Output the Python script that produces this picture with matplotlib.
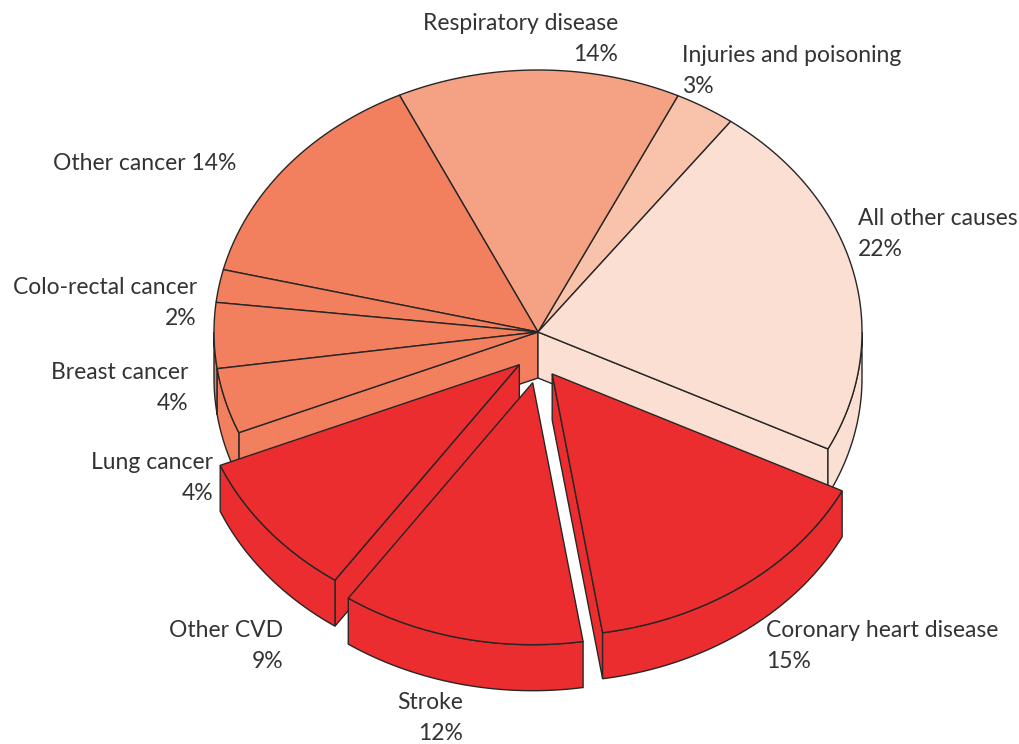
import numpy as np
import matplotlib.pyplot as plt
from matplotlib.patches import Polygon

plt.rcParams['font.family'] = ['Lato', 'DejaVu Sans']

causes = ['Injuries and poisoning', 'Respiratory disease', 'Other cancer', 'Colo-rectal cancer',
          'Breast cancer', 'Lung cancer', 'Other CVD', 'Stroke', 'Coronary heart disease',
          'All other causes']
share = [3, 14, 14, 2, 4, 4, 9, 12, 15, 22]
colors = ['#f9c3ab', '#f4a283', '#f2805f', '#f2805f', '#f2805f', '#f2805f',
          '#ec2d2f', '#ec2d2f', '#ec2d2f', '#fcdfd3']
pulled = [False, False, False, False, False, False, True, True, True, False]

# pie geometry in pixel space (y grows downward)
cx, cy = 538, 332
rx, ry = 324, 262
depth = 46
start = 53.5
pull_x, pull_y = 24, 52
edge = '#262626'

vals = np.array(share, dtype=float)
bounds = start + 360 * np.concatenate([[0], np.cumsum(vals)]) / vals.sum()

fig = plt.figure(figsize=(10.2, 7.44), dpi=100)
ax = fig.add_axes([0, 0, 1, 1])
ax.set_xlim(0, 1020)
ax.set_ylim(744, 0)
ax.axis('off')


def pt(a, ox, oy, dz=0.0):
    t = np.radians(a)
    return cx + ox + rx * np.cos(t), cy + oy - ry * np.sin(t) + dz


def arc(a1, a2, ox, oy, dz=0.0, n=None):
    n = n or max(3, int(abs(a2 - a1)) + 2)
    t = np.linspace(a1, a2, n)
    x, y = pt(t, ox, oy, dz)
    return np.column_stack([x, y])


def patch(xy, color, z):
    ax.add_patch(Polygon(xy, closed=True, facecolor=color, edgecolor=edge,
                         lw=1.0, joinstyle='miter', zorder=z))


def radial_face(a, ox, oy, color, z):
    x, y = pt(a, ox, oy)
    xy = [(cx + ox, cy + oy), (x, y), (x, y + depth), (cx + ox, cy + oy + depth)]
    patch(xy, color, z)


def curved_side(a1, a2, ox, oy, color, z):
    # only the front half of the rim (180..360 deg) faces the viewer
    for k in (-1, 0, 1):
        lo = max(a1, 180 + 360 * k)
        hi = min(a2, 360 + 360 * k)
        if hi > lo:
            top = arc(lo, hi, ox, oy)
            bot = arc(hi, lo, ox, oy, depth)
            patch(np.vstack([top, bot]), color, z)


def top_face(a1, a2, ox, oy, color, z):
    xy = np.vstack([[(cx + ox, cy + oy)], arc(a1, a2, ox, oy)])
    patch(xy, color, z)


# main body: faces bordering the gap, rim, then tops
body = [i for i in range(len(vals)) if not pulled[i]]
first_pulled = pulled.index(True)
last_pulled = len(pulled) - 1 - pulled[::-1].index(True)
radial_face(bounds[first_pulled], 0, 0, colors[first_pulled - 1], 1)
radial_face(bounds[last_pulled + 1], 0, 0, colors[last_pulled + 1], 1)
for i in body:
    curved_side(bounds[i], bounds[i + 1], 0, 0, colors[i], 2)
for i in body:
    top_face(bounds[i], bounds[i + 1], 0, 0, colors[i], 3)

# pulled-out slices, back to front
out = [i for i in range(len(vals)) if pulled[i]]
mids = {i: np.radians((bounds[i] + bounds[i + 1]) / 2) for i in out}
for rank, i in enumerate(sorted(out, key=lambda j: -np.sin(mids[j]))):
    ox = pull_x * np.cos(mids[i])
    oy = -pull_y * np.sin(mids[i])
    z = 10 + rank * 3
    a1, a2 = bounds[i], bounds[i + 1]
    if np.cos(np.radians(a1)) > 0:
        radial_face(a1, ox, oy, colors[i], z)
    if np.cos(np.radians(a2)) < 0:
        radial_face(a2, ox, oy, colors[i], z)
    curved_side(a1, a2, ox, oy, colors[i], z + 1)
    top_face(a1, a2, ox, oy, colors[i], z + 2)

# labels
label_pos = {
    'Injuries and poisoning': (682, 71, 'left'),
    'Respiratory disease': (618, 39, 'right'),
    'Other cancer': (236, 163, 'right'),
    'Colo-rectal cancer': (197, 303, 'right'),
    'Breast cancer': (188, 388, 'right'),
    'Lung cancer': (213, 478, 'right'),
    'Other CVD': (283, 646, 'right'),
    'Stroke': (463, 718, 'right'),
    'Coronary heart disease': (766, 646, 'left'),
    'All other causes': (858, 234, 'left'),
}
for name, v in zip(causes, share):
    x, y, ha = label_pos[name]
    txt = f'{name} {v}%' if name == 'Other cancer' else f'{name}\n{v}%'
    ax.text(x, y, txt, ha=ha, va='center', multialignment=ha, fontsize=16.5,
            color='#333333', linespacing=1.55, zorder=20)

fig.savefig('out.png', dpi=100, facecolor='white')
